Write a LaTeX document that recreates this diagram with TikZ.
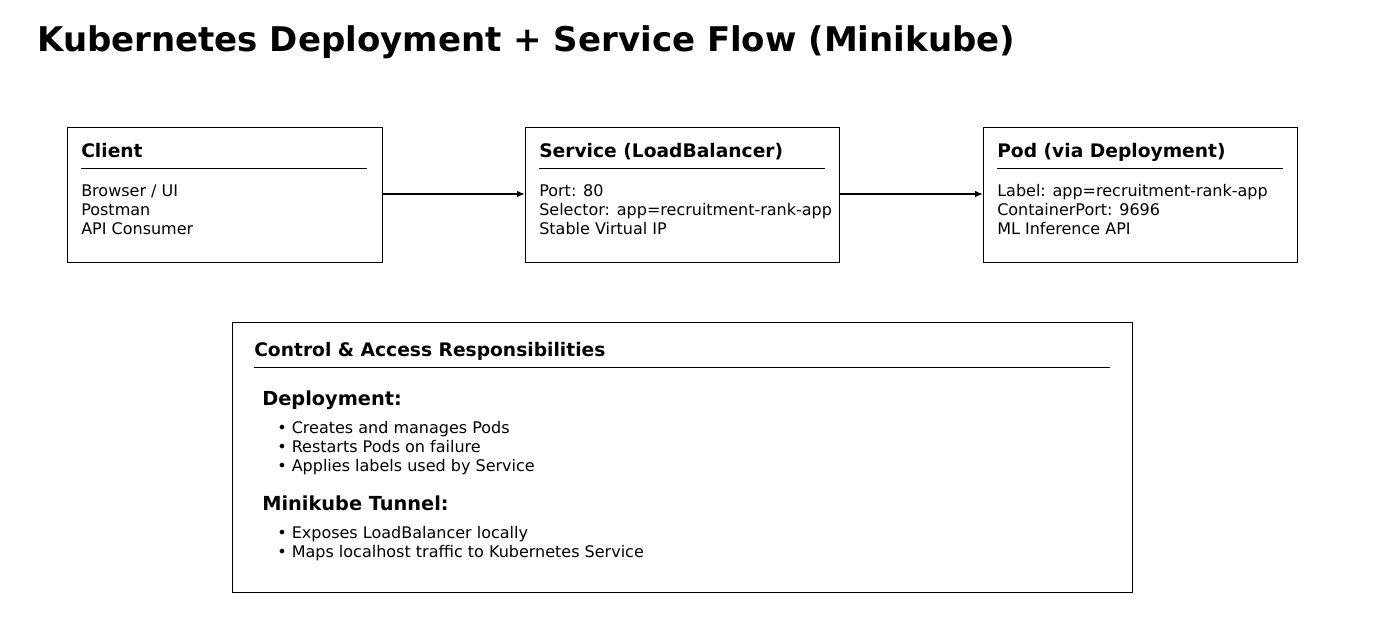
\documentclass[tikz,border=0pt]{standalone}
\usepackage{fontspec}
\setmainfont{DejaVu Sans}
\usetikzlibrary{arrows.meta}
\begin{document}
\begin{tikzpicture}[x=0.75pt,y=-0.75pt,
  box/.style={draw,line width=0.9pt,inner sep=0,anchor=north west},
  hd/.style={anchor=mid west,inner sep=0,font=\fontsize{14}{16}\selectfont\bfseries},
  tx/.style={anchor=mid west,inner sep=0,font=\fontsize{12}{14}\selectfont},
  sub/.style={anchor=mid west,inner sep=0,font=\fontsize{14.5}{16}\selectfont\bfseries},
  rule/.style={line width=0.5pt},
  arr/.style={line width=1.2pt,-{Latex[length=6pt,width=5pt]}}]
\useasboundingbox (0,0) rectangle (1376,636);
\node[anchor=mid west,inner sep=0,font=\fontsize{25.5}{28}\selectfont\bfseries] (title) at (37,48) {Kubernetes Deployment + Service Flow (Minikube)};
% boxes
\node[box,minimum width=315*0.75pt,minimum height=135*0.75pt] (client) at (67,127) {};
\node[box,minimum width=314*0.75pt,minimum height=135*0.75pt] (svc) at (525,127) {};
\node[box,minimum width=314*0.75pt,minimum height=135*0.75pt] (pod) at (983,127) {};
\node[hd] (ch) at (81,154) {Client};
\draw[rule] (81,168) -- (367,168);
\node[tx] (c1) at (81,193) {Browser / UI};
\node[tx] (c2) at (81,212) {Postman};
\node[tx] (c3) at (81,231) {API Consumer};
\node[hd] (sh) at (539,154) {Service (LoadBalancer)};
\draw[rule] (539,168) -- (825,168);
\node[tx] (s1) at (539,193) {Port: 80};
\node[tx] (s2) at (539,212) {Selector: app=recruitment-rank-app};
\node[tx] (s3) at (539,231) {Stable Virtual IP};
\node[hd] (ph) at (997,154) {Pod (via Deployment)};
\draw[rule] (997,168) -- (1283,168);
\node[tx] (p1) at (997,193) {Label: app=recruitment-rank-app};
\node[tx] (p2) at (997,212) {ContainerPort: 9696};
\node[tx] (p3) at (997,231) {ML Inference API};
\coordinate (a1) at (382,194); \coordinate (a2) at (525,194);
\coordinate (b1) at (839,194); \coordinate (b2) at (983,194);
\draw[arr] (a1) -- (a2);
\draw[arr] (b1) -- (b2);
% bottom
\node[box,minimum width=900*0.75pt,minimum height=270*0.75pt] (ctl) at (232,322) {};
\node[hd] (ctlh) at (254,353) {Control \& Access Responsibilities};
\draw[rule] (254,367) -- (1110,367);
\node[sub] (dep) at (262,402) {Deployment:};
\node[tx] (d1) at (277,430) {• Creates and manages Pods};
\node[tx] (d2) at (277,449) {• Restarts Pods on failure};
\node[tx] (d3) at (277,468) {• Applies labels used by Service};
\node[sub] (mk) at (262,507) {Minikube Tunnel:};
\node[tx] (m1) at (277,535) {• Exposes LoadBalancer locally};
\node[tx] (m2) at (277,554) {• Maps localhost traffic to Kubernetes Service};
\end{tikzpicture}
\end{document}
